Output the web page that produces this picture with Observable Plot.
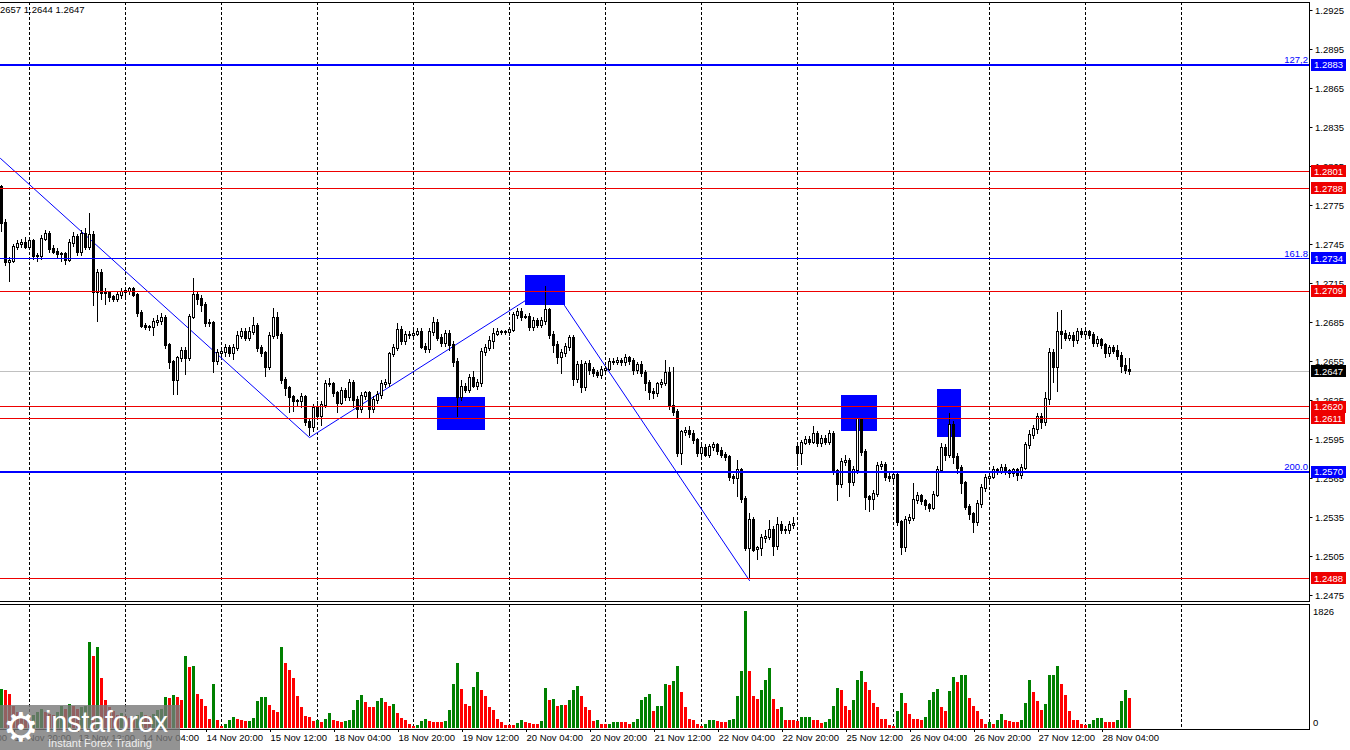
<!DOCTYPE html>
<html><head><meta charset="utf-8">
<script src="https://cdn.jsdelivr.net/npm/d3@7"></script>
<script src="https://cdn.jsdelivr.net/npm/@observablehq/plot@0.6"></script>
<style>
html,body{margin:0;padding:0;background:#fff;}
#wrap{position:relative;width:1350px;height:750px;overflow:hidden;font-family:"Liberation Sans",Arial,sans-serif;background:#fff;}
#price{position:absolute;left:-2px;top:0;}
#vol{position:absolute;left:-2px;top:602px;}
#hdr{position:absolute;left:0;top:4px;font-size:9.5px;line-height:11px;color:#000;white-space:nowrap;}
#wm{position:absolute;left:0;top:705px;width:180px;height:45px;background:rgba(120,120,120,0.8);}
#wm .gear{position:absolute;left:3px;top:0px;font-size:40px;line-height:44px;color:#fff;font-family:"DejaVu Sans",sans-serif;}
#wm .big{position:absolute;left:45px;top:2px;font-size:29px;line-height:30px;color:#fff;letter-spacing:-0.3px;}
#wm .small{position:absolute;left:48px;top:32px;font-size:11px;line-height:12px;color:#eee;}
</style></head>
<body>
<div id="wrap">
  <div id="price"></div>
  <div id="vol"></div>
  <div id="hdr">2657 1.2644 1.2647</div>
  <div id="wm"><span class="gear">⚙</span><span class="big">instaforex</span><span class="small">Instant Forex Trading</span></div>
</div>
<script>
// ---------- DATA (H1 bars, index 0 = 12 Nov 17:00) ----------
const close = [
 1.2761,1.2731,1.2732,1.2743,1.2745,1.2746,1.2743,
 1.2747,1.2736,1.2736,1.2749,1.2753,1.2741,1.2739,1.2737,1.2737,1.2733,1.2746,1.2750,1.2739,1.2753,1.2743,1.2752,1.2708,1.2723,1.2707,1.2707,1.2704,1.2703,1.2706,1.2708,
 1.2709,1.2710,1.2706,1.2692,1.2682,1.2681,1.2681,1.2685,1.2686,1.2688,1.2667,1.2654,1.2640,1.2657,1.2663,1.2657,1.2689,1.2706,1.2703,1.2698,1.2684,1.2684,1.2655,1.2661,
 1.2662,1.2665,1.2661,1.2665,1.2674,1.2677,1.2673,1.2677,1.2682,1.2665,1.2661,1.2650,1.2674,1.2688,1.2675,1.2640,1.2634,1.2627,1.2624,1.2624,1.2627,1.2608,1.2604,1.2619,
 1.2613,1.2621,1.2637,1.2637,1.2630,1.2623,1.2632,1.2627,1.2638,1.2625,1.2618,1.2628,1.2630,1.2618,1.2625,1.2629,1.2637,1.2638,1.2660,1.2665,1.2679,1.2670,1.2675,1.2675,
 1.2676,1.2677,1.2666,1.2664,1.2677,1.2684,1.2673,1.2669,1.2676,1.2667,1.2654,1.2627,1.2635,1.2633,1.2642,1.2636,1.2638,1.2662,1.2665,1.2670,1.2676,1.2677,1.2677,1.2677,
 1.2679,1.2690,1.2693,1.2689,1.2689,1.2681,1.2686,1.2683,1.2686,1.2694,1.2675,1.2667,1.2658,1.2661,1.2666,1.2673,1.2641,1.2652,1.2635,1.2653,1.2648,1.2646,1.2644,1.2648,
 1.2649,1.2654,1.2654,1.2655,1.2654,1.2657,1.2655,1.2648,1.2652,1.2646,1.2638,1.2631,1.2630,1.2637,1.2638,1.2646,1.2620,1.2616,1.2584,1.2600,1.2601,1.2599,1.2594,1.2584,
 1.2588,1.2583,1.2589,1.2590,1.2586,1.2583,1.2581,1.2566,1.2565,1.2571,1.2549,1.2511,1.2533,1.2510,1.2511,1.2519,1.2520,1.2525,1.2513,1.2529,1.2525,1.2525,1.2529,1.2530,
 1.2584,1.2592,1.2594,1.2593,1.2599,1.2592,1.2595,1.2593,1.2599,1.2570,1.2560,1.2577,1.2578,1.2562,1.2571,1.2610,1.2585,1.2550,1.2549,1.2553,1.2574,1.2575,1.2566,1.2565,
 1.2567,1.2531,1.2512,1.2533,1.2534,1.2548,1.2551,1.2547,1.2544,1.2542,1.2552,1.2571,1.2588,1.2583,1.2606,1.2581,1.2573,1.2561,1.2543,1.2537,1.2531,1.2545,1.2557,1.2565,
 1.2566,1.2571,1.2570,1.2573,1.2570,1.2569,1.2571,1.2567,1.2573,1.2590,1.2598,1.2603,1.2612,1.2608,1.2626,1.2661,1.2650,1.2677,1.2676,1.2673,1.2674,1.2671,1.2677,1.2676,
 1.2677,1.2675,1.2669,1.2671,1.2667,1.2661,1.2665,1.2663,1.2659,1.2651,1.2648,1.2647
];
// opens that differ from the previous close (first bar, Monday gap)
const openOverrides = [[0, 1.2789], [199, 1.2589]];
// upper / lower wick lengths in pips
const wickUp = [
 1,3,3,2,3,3,4,
 3,2,2,3,3,2,3,3,2,2,3,4,3,3,4,17,3,3,3,4,2,2,3,3,
 3,2,2,1,2,2,2,3,4,4,2,2,2,2,3,3,2,13,3,3,2,3,2,3,
 3,3,2,3,4,3,3,4,7,2,2,2,3,8,5,2,3,2,2,2,3,2,2,3,
 5,3,3,5,2,2,3,2,3,2,3,3,2,2,3,3,3,3,2,3,5,3,3,3,
 3,3,3,3,3,5,3,3,3,3,3,3,5,3,3,5,3,3,3,4,4,3,2,2,
 2,3,3,3,2,3,3,2,3,19,2,3,3,3,3,2,2,3,4,2,3,2,2,3,
 2,3,3,3,2,3,2,2,2,3,2,2,3,2,3,10,4,30,2,2,3,4,3,2,
 2,3,2,3,2,3,2,2,2,8,2,2,5,2,2,3,5,8,3,6,3,3,3,5,
 3,2,3,3,6,2,3,3,3,2,2,3,5,2,3,1,1,2,2,3,3,3,2,3,
 3,2,2,3,3,13,3,2,2,2,3,3,4,3,9,3,3,2,2,2,2,3,3,3,
 3,3,2,3,3,2,2,2,3,3,4,3,3,3,5,4,3,16,17,3,3,3,3,3,
 4,2,2,3,2,2,2,2,4,3,6,9
];
const wickDn = [
 7,3,15,2,3,3,2,
 3,3,5,3,2,3,2,3,6,4,2,3,3,3,3,3,11,23,5,9,4,3,3,3,
 4,3,2,3,2,2,3,7,3,3,3,5,11,11,3,13,2,2,5,5,3,3,9,3,
 3,4,3,5,2,2,3,3,2,3,3,7,2,2,3,3,6,12,8,4,5,3,7,4,
 3,8,2,2,3,8,2,3,3,6,8,3,3,8,3,3,3,3,3,2,2,3,3,3,
 2,2,2,3,3,3,3,3,3,4,4,15,3,3,3,2,3,3,3,2,6,2,2,2,
 3,2,3,3,2,3,3,3,3,3,3,6,5,13,3,3,5,3,5,3,4,3,2,3,
 2,2,2,2,3,3,3,4,3,3,6,6,4,3,3,2,3,3,3,9,3,3,3,3,
 3,2,3,3,3,3,3,3,5,15,3,2,24,2,8,6,4,3,8,3,3,3,3,3,
 10,9,2,3,2,3,3,3,3,3,13,3,3,12,3,3,3,10,10,9,3,3,3,3,
 3,3,6,4,3,2,3,3,4,3,2,2,2,5,3,5,5,8,3,4,8,3,3,3,
 3,2,3,2,3,4,3,4,3,2,3,3,4,5,3,5,12,19,12,3,3,5,3,3,
 3,3,3,3,3,4,3,3,3,5,3,3
];
const volume = [
 607,597,535,350,250,200,150,
 120,200,250,300,250,220,200,250,350,300,380,350,290,330,350,1349,1126,1266,784,441,327,260,200,230,
 180,150,120,200,250,200,180,220,280,301,483,470,519,483,441,1126,945,971,535,457,348,145,690,130,
 30,67,130,171,145,130,104,114,161,415,477,480,363,285,249,1261,1022,908,779,493,327,192,171,104,
 130,88,145,234,130,114,88,114,130,285,441,519,405,322,320,426,467,405,337,379,234,156,130,62,
 36,52,104,145,104,100,98,88,114,285,685,1022,612,379,348,638,867,586,493,327,285,145,88,52,
 45,40,78,130,93,78,67,65,114,623,431,457,348,363,360,431,586,659,493,322,285,114,130,67,
 62,65,88,93,90,88,67,88,145,431,483,535,270,337,348,685,675,727,960,561,322,145,130,62,
 36,67,130,132,104,93,88,130,145,493,882,1826,893,503,457,597,742,934,457,301,327,130,128,126,
 104,166,168,170,130,128,78,93,145,348,623,597,348,275,431,742,882,711,586,389,322,145,143,52,
 36,270,545,389,223,145,143,130,171,441,561,607,327,270,581,794,711,830,832,467,348,270,145,67,
 88,67,130,223,130,114,93,88,130,389,753,555,415,285,379,830,832,971,690,519,270,130,128,67,
 52,67,119,156,158,93,92,91,130,415,597,467
];
// bar indices of day starts (dashed separators)
const dayStarts = [7,31,55,79,103,127,151,175,199,223,247,271,295];
// time-axis labels
const timeIdx = [-13,3,19,35,51,67,83,99,115,131,147,163,179,195,211,227,243,259,275];
const timeLabels = ["12 Nov 04:00","12 Nov 20:00","13 Nov 12:00","14 Nov 04:00","14 Nov 20:00","15 Nov 12:00",
 "18 Nov 04:00","18 Nov 20:00","19 Nov 12:00","20 Nov 04:00","20 Nov 20:00","21 Nov 12:00","22 Nov 04:00",
 "22 Nov 20:00","25 Nov 12:00","26 Nov 04:00","26 Nov 20:00","27 Nov 12:00","28 Nov 04:00"];
const priceTicks = [1.2475,1.2505,1.2535,1.2565,1.2595,1.2625,1.2655,1.2685,1.2715,1.2745,1.2775,1.2805,1.2835,1.2865,1.2895,1.2925];
// horizontal levels
const redLevels = [1.2801,1.2788,1.2709,1.2620,1.2611,1.2488];
const blueThickLevels = [1.2883,1.2570];
const blueThinLevels = [1.2734];
const currentPrice = 1.2647;
const fibLabels = [{p:1.2883,t:"127,2"},{p:1.2734,t:"161.8"},{p:1.2570,t:"200.0"}];
const badgeLevels = [1.2883,1.2801,1.2788,1.2734,1.2709,1.2647,1.2620,1.2611,1.2570,1.2488];
const badgeColors = ["#0000ff","#ee0000","#ee0000","#0000ff","#ee0000","#000000","#ee0000","#ee0000","#0000ff","#ee0000"];
// zigzag / fibo lines (bar index, price)
const zigA = [{i:-0.25,p:1.28112},{i:77,p:1.25965},{i:131,p:1.27019}];
const zigB = [{i:140.75,p:1.26981},{i:187,p:1.24865}];
// blue marker boxes
const boxes = [
 {i1:109,i2:121,p1:1.26273,p2:1.26019},
 {i1:131,i2:141,p1:1.27212,p2:1.26981},
 {i1:210,i2:219,p1:1.26288,p2:1.26012},
 {i1:234,i2:240,p1:1.26335,p2:1.25965}
];
const volumeMax = 1826;

// ---------- build tables ----------
const pip = 0.0001;
const ovr = new Map(openOverrides);
const bars = close.map((c, i) => {
  const o = ovr.has(i) ? ovr.get(i) : close[i - 1];
  return {i, open: o, close: c,
    high: Math.max(o, c) + wickUp[i] * pip,
    low: Math.min(o, c) - wickDn[i] * pip};
});
const vols = volume.map((v, i) => ({i, v, c: (i === 0 || v > volume[i - 1]) ? "#008000" : "#ff0000"}));
const f4 = d3.format(".4f");
const badges = badgeLevels.map((p, k) => ({p, c: badgeColors[k]}));
const badgeColorByText = new Map(badges.map(d => [f4(d.p), d.c]));
const labelMap = new Map(timeIdx.map((d, k) => [d, timeLabels[k]]));

const xDomain = [-0.75, 326.875];
const font = {fontFamily: "'Liberation Sans', Arial, sans-serif", fontSize: "9.5px", background: "transparent", overflow: "visible"};
const crisp = "crispEdges";

const priceSvg = Plot.plot({
  width: 1352, height: 602,
  marginLeft: 0, marginRight: 41.5, marginTop: 2, marginBottom: 1,
  style: font,
  x: {domain: xDomain, axis: null},
  y: {domain: [1.24703846, 1.29311538]},
  marks: [
    Plot.ruleX(dayStarts, {stroke: "black", strokeDasharray: "3,2", shapeRendering: crisp}),
    Plot.rect(boxes, {x1: "i1", x2: "i2", y1: "p1", y2: "p2", fill: "#0000ff", shapeRendering: crisp}),
    Plot.ruleY([currentPrice], {stroke: "#c0c0c0", shapeRendering: crisp}),
    Plot.line(zigA, {x: "i", y: "p", stroke: "#0000ff", strokeWidth: 1}),
    Plot.line(zigB, {x: "i", y: "p", stroke: "#0000ff", strokeWidth: 1}),
    Plot.ruleX(bars, {x: "i", y1: "low", y2: "high", stroke: "black", strokeWidth: 1, shapeRendering: crisp}),
    Plot.rect(bars, {x1: d => d.i - 0.25, x2: d => d.i + 0.25, y1: "open", y2: "close",
      insetTop: -0.5, insetBottom: -0.5, shapeRendering: crisp,
      fill: d => d.close >= d.open ? "white" : "black", stroke: "black", strokeWidth: 1}),
    Plot.ruleY(redLevels, {stroke: "#ee0000", strokeWidth: 1, shapeRendering: crisp}),
    Plot.ruleY(blueThinLevels, {stroke: "#0000ff", strokeWidth: 1, shapeRendering: crisp}),
    Plot.ruleY(blueThickLevels, {stroke: "#0000ff", strokeWidth: 2, shapeRendering: crisp}),
    Plot.text(fibLabels, {y: "p", text: "t", frameAnchor: "right", textAnchor: "end", lineAnchor: "bottom",
      dx: -1, dy: -2, fill: "#0000ff", fontSize: 9.5}),
    Plot.frame({stroke: "black", shapeRendering: crisp}),
    Plot.axisY({anchor: "right", ticks: priceTicks, tickFormat: f4, tickSize: 3, tickPadding: 3, fontSize: 9.5}),
    Plot.text(badges, {y: "p", text: d => f4(d.p), frameAnchor: "right", textAnchor: "start",
      dx: 5, fill: "white", fontSize: 9.5})
  ]
});

const volSvg = Plot.plot({
  width: 1352, height: 148,
  marginLeft: 0, marginRight: 41.5, marginTop: 2, marginBottom: 21,
  style: font,
  x: {domain: xDomain},
  y: {domain: [0, volumeMax], range: [126, 9], axis: null},
  marks: [
    Plot.ruleX(dayStarts, {stroke: "black", strokeDasharray: "3,2", shapeRendering: crisp}),
    Plot.rect(vols, {x1: d => d.i - 0.375, x2: d => d.i + 0.375, y1: 0, y2: "v", fill: "c", shapeRendering: crisp}),
    Plot.frame({stroke: "black", shapeRendering: crisp}),
    Plot.text([volumeMax], {y: d => d, text: d => String(d), frameAnchor: "right", textAnchor: "start", dx: 4, fontSize: 9.5}),
    Plot.text([0], {y: d => d, text: d => String(d), frameAnchor: "right", textAnchor: "start", dx: 4, dy: -6, fontSize: 9.5}),
    Plot.axisX({ticks: timeIdx, tickFormat: d => labelMap.get(d), tickSize: 3, tickPadding: 2,
      textAnchor: "start", dx: 1, fontSize: 9.5})
  ]
});

document.getElementById("price").appendChild(priceSvg);
document.getElementById("vol").appendChild(volSvg);

// price badges: coloured box behind each level value (white text)
const NS = "http://www.w3.org/2000/svg";
priceSvg.querySelectorAll("text").forEach(t => {
  const key = t.textContent.trim();
  if (!badgeColorByText.has(key)) return;
  const b = t.getBBox();
  const r = document.createElementNS(NS, "rect");
  r.setAttribute("x", b.x - 3);
  r.setAttribute("y", b.y - 0.5);
  r.setAttribute("width", b.width + 6);
  r.setAttribute("height", b.height + 1);
  const tr = t.getAttribute("transform");
  if (tr) r.setAttribute("transform", tr);
  r.setAttribute("fill", badgeColorByText.get(key));
  r.setAttribute("shape-rendering", "crispEdges");
  t.setAttribute("fill", "white");
  t.parentNode.insertBefore(r, t);
});
</script>
</body></html>
